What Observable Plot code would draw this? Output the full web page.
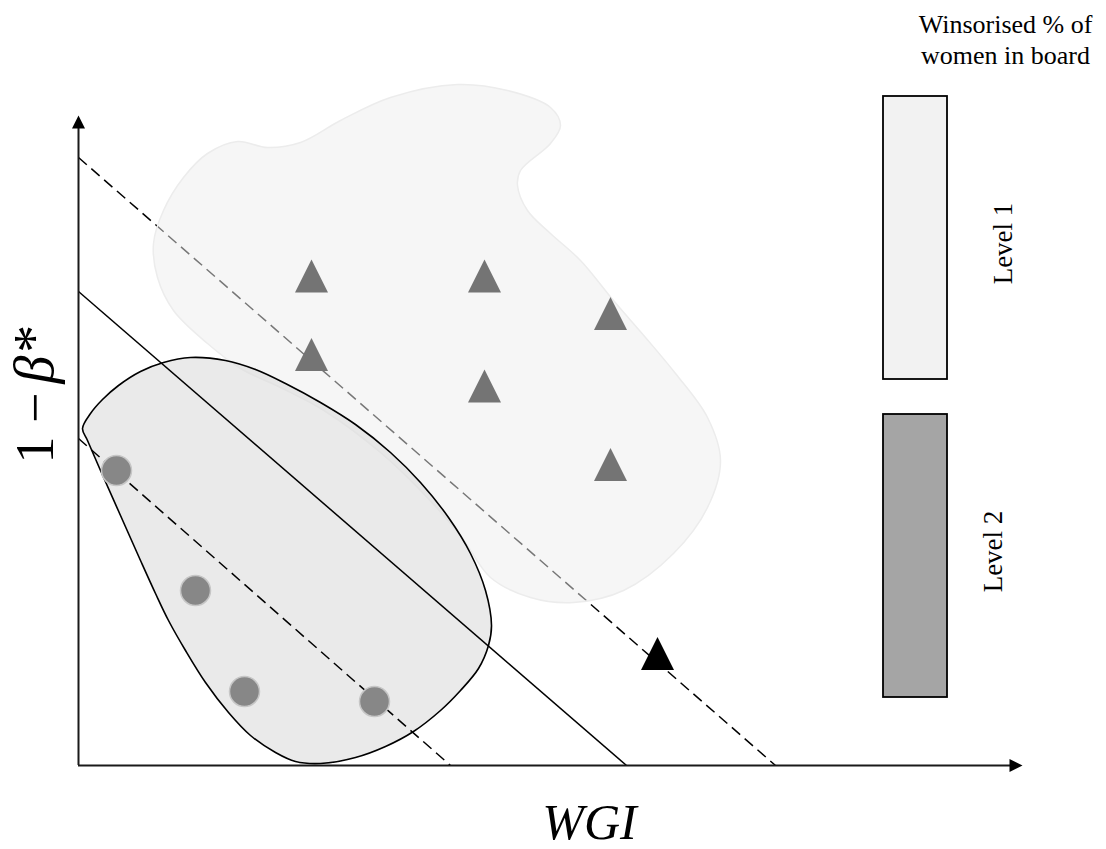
<!DOCTYPE html>
<html>
<head>
<meta charset="utf-8">
<script src="https://cdn.jsdelivr.net/npm/d3@7"></script>
<script src="https://cdn.jsdelivr.net/npm/@observablehq/plot@0.6"></script>
<style>
  html, body { margin: 0; padding: 0; background: #ffffff; }
  #chart svg { display: block; }
</style>
</head>
<body>
<div id="chart"></div>
<script>
// ---- Data (conceptual units: origin of the WGI / 1-β* axes at 0,0) ----
// Level 1 firms (triangles, grey) and the single black triangle
const level1X = [233, 406, 532, 233, 406, 532];
const level1Y = [489.5, 489.5, 452, 411, 379.5, 301];
const blackX = [579];
const blackY = [112];
// Level 2 firms (circles)
const level2X = [38, 117, 166, 296];
const level2Y = [295, 175, 74, 64];
// Iso-lines
const lineNames = ["upper", "middle", "lower"];
const lineX1 = [0, 0, 0];
const lineY1 = [608, 474, 327];
const lineX2 = [697, 548, 372];
const lineY2 = [0, 0, 0];
const lineDashed = [true, false, true];
// Blob outlines
const cloud1X = [379, 429, 472, 482, 472, 442, 439, 449, 472, 502, 535, 567, 597, 629, 642, 629, 595, 545, 495, 452, 412, 382, 342, 302, 247, 202, 162, 129, 95, 79, 75, 85, 105, 129, 159, 189, 222, 262, 312];
const cloud1Y = [681, 675, 658, 640, 622, 595, 580, 555, 532, 505, 465, 428, 392, 348, 305, 258, 212, 175, 163, 168, 188, 230, 275, 313, 354, 378, 397, 422, 455, 488, 522, 555, 588, 612, 624, 618, 623, 645, 668];
const cloud2X = [4, 12, 24, 40, 62, 85, 112, 147, 177, 207, 242, 277, 312, 342, 370, 392, 407, 413, 410, 400, 382, 362, 335, 307, 277, 242, 217, 197, 172, 150, 127, 107, 90, 77, 62, 42, 22, 9];
const cloud2Y = [337, 352, 366, 380, 394, 403, 408, 405, 396, 382, 363, 341, 313, 283, 248, 212, 175, 140, 120, 97, 75, 55, 34, 19, 8, 2, 4, 13, 30, 53, 83, 115, 145, 172, 205, 250, 295, 325];
// Axes
const axisXEnd = 944;
const axisYEnd = 650;
// Legend
const legendTitle = "Winsorised % of\nwomen in board";
const legendLabels = ["Level 1", "Level 2"];
const legendFill = ["#f2f2f2", "#a5a5a5"];
const legendX1 = [805, 805];
const legendX2 = [869, 869];
const legendY1 = [386, 68];
const legendY2 = [669, 351];
const legendLabelX = [925, 915];
const legendLabelY = [522, 214];

// ---- Build tables ----
const pts = (xs, ys) => xs.map((x, i) => ({x, y: ys[i]}));
const cloud1 = pts(cloud1X, cloud1Y);
const cloud2 = pts(cloud2X, cloud2Y);
const lines = lineNames.map((n, i) => ({n, x1: lineX1[i], y1: lineY1[i], x2: lineX2[i], y2: lineY2[i], dashed: lineDashed[i]}));
const legend = legendLabels.map((l, i) => ({l, fill: legendFill[i], x1: legendX1[i], x2: legendX2[i], y1: legendY1[i], y2: legendY2[i], lx: legendLabelX[i], ly: legendLabelY[i]}));

// custom symbols
const triangleSym = { draw(ctx) { const h = 16.5; ctx.moveTo(0, -h); ctx.lineTo(h, h); ctx.lineTo(-h, h); ctx.closePath(); } };
const arrowSym = { draw(ctx) { ctx.moveTo(0, 0); ctx.lineTo(6.5, 13); ctx.lineTo(-6.5, 13); ctx.closePath(); } };

const linkOpts = {x1: "x1", y1: "y1", x2: "x2", y2: "y2", stroke: "#000", strokeWidth: 1.5};

const chart = Plot.plot({
  width: 1106,
  height: 849,
  margin: 0,
  x: {domain: [-78, 1028], range: [0, 1106], axis: null},
  y: {domain: [-84, 765], range: [849, 0], axis: null},
  style: {fontFamily: "'Liberation Serif', 'Times New Roman', serif", background: "#ffffff", color: "#000"},
  marks: [
    // upper dashed iso-line (beneath the light cloud)
    Plot.link(lines.filter(d => d.n === "upper"), {...linkOpts, strokeDasharray: "11,6"}),
    // light cloud (Level 1 region)
    Plot.line(cloud1, {x: "x", y: "y", curve: "catmull-rom-closed", fill: "#eeeeee", fillOpacity: 0.5, stroke: "#ececec", strokeWidth: 1.5}),
    // dark cloud (Level 2 region)
    Plot.line(cloud2, {x: "x", y: "y", curve: "catmull-rom-closed", fill: "#dddddd", fillOpacity: 0.62, stroke: "#000", strokeWidth: 1.6}),
    // other iso-lines
    Plot.link(lines.filter(d => d.n !== "upper" && !d.dashed), linkOpts),
    Plot.link(lines.filter(d => d.n !== "upper" && d.dashed), {...linkOpts, strokeDasharray: "11,6"}),
    // axes
    Plot.ruleY([0], {x1: 0, x2: axisXEnd - 12, stroke: "#1a1a1a", strokeWidth: 2}),
    Plot.ruleX([0], {y1: 0, y2: axisYEnd - 12, stroke: "#1a1a1a", strokeWidth: 2}),
    Plot.dot([{x: 0, y: axisYEnd}], {x: "x", y: "y", symbol: arrowSym, fill: "#000", stroke: "none"}),
    Plot.dot([{x: axisXEnd, y: 0}], {x: "x", y: "y", symbol: arrowSym, rotate: 90, fill: "#000", stroke: "none"}),
    // points
    Plot.dot(pts(level1X, level1Y), {x: "x", y: "y", symbol: triangleSym, fill: "#747474", stroke: "none"}),
    Plot.dot(pts(blackX, blackY), {x: "x", y: "y", symbol: triangleSym, fill: "#000", stroke: "none"}),
    Plot.dot(pts(level2X, level2Y), {x: "x", y: "y", r: 15, fill: "#878787", stroke: "#c6c6c6", strokeWidth: 1.5}),
    // legend
    Plot.rect(legend, {x1: "x1", x2: "x2", y1: "y1", y2: "y2", fill: "fill", stroke: "#000", strokeWidth: 1.8}),
    Plot.text(legend, {x: "lx", y: "ly", text: "l", rotate: -90, fontSize: 27, fill: "#000"}),
    Plot.text([legendTitle], {x: 927, y: 727, text: d => d, fontSize: 26, lineHeight: 1.19, fill: "#000"}),
    // axis titles
    Plot.text(["WGI"], {x: 511, y: -57, text: d => d, fontSize: 50, fontStyle: "italic", fill: "#000"}),
    Plot.text(["1 \u2212"], {x: -43, y: 302, text: d => d, rotate: -90, textAnchor: "start", fontSize: 54, fill: "#000"}),
    Plot.text(["\u03B2*"], {x: -43, y: 382, text: d => d, rotate: -90, textAnchor: "start", fontSize: 56, fontStyle: "italic", fill: "#000"})
  ]
});
document.getElementById("chart").appendChild(chart);
</script>
</body>
</html>
